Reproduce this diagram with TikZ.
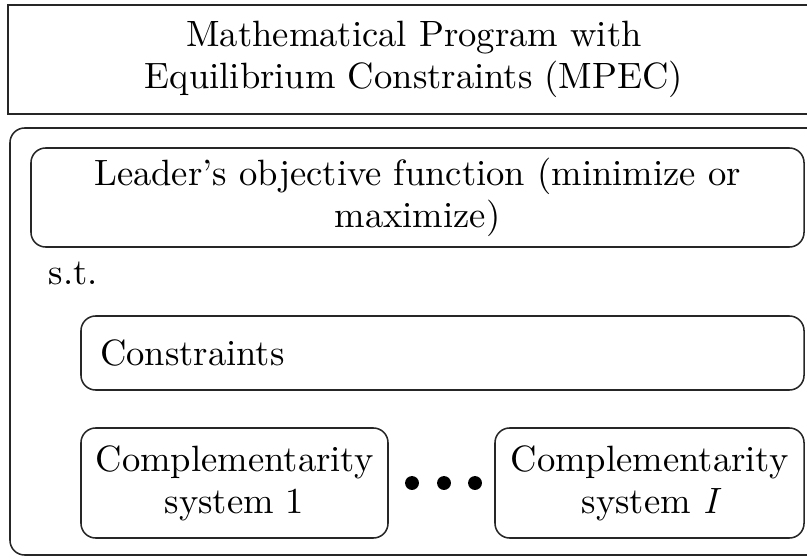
\documentclass[tikz,border=0pt]{standalone}
\newdimen\pxu \pxu=0.2732pt
\tikzset{
  lbl/.style={font=\fontsize{10}{11.5}\selectfont, align=center},
  rbox/.style={draw=black!85, line width=0.42pt, rounded corners=4pt, inner sep=0pt},
  sbox/.style={draw=black!85, line width=0.42pt, inner sep=0pt},
  dot/.style={circle, fill=black, minimum size=3.8pt, inner sep=0pt},
}
\begin{document}
\begin{tikzpicture}[x=\pxu,y=-\pxu]
\clip (0,0) rectangle (807,558);
\node[sbox, lbl, minimum width=812*\pxu, minimum height=109*\pxu] (title) at (414,59.5) {Mathematical Program with\\Equilibrium Constraints (MPEC)};
\node[rbox, minimum width=812*\pxu, minimum height=427*\pxu] (outer) at (416,341.5) {};
\node[rbox, lbl, minimum width=773*\pxu, minimum height=99*\pxu] (lead) at (417.5,197.5) {Leader’s objective function (minimize or\\maximize)};
\node[lbl, anchor=base west, inner sep=0pt] (st) at (48,284) {s.t.};
\node[rbox, font=\fontsize{10}{11.5}\selectfont, align=left, text width=685*\pxu, inner xsep=19*\pxu, minimum height=74*\pxu] (cons) at (442.5,353) {Constraints};
\node[rbox, lbl, minimum width=307*\pxu, minimum height=110*\pxu] (c1) at (234.5,483) {Complementarity\\system 1};
\node[rbox, lbl, minimum width=309*\pxu, minimum height=110*\pxu] (cI) at (649.5,483) {Complementarity\\system {\itshape I}};
\node[dot] (d1) at (412,483) {};
\node[dot] (d2) at (444,483) {};
\node[dot] (d3) at (475,483) {};
\end{tikzpicture}
\end{document}
